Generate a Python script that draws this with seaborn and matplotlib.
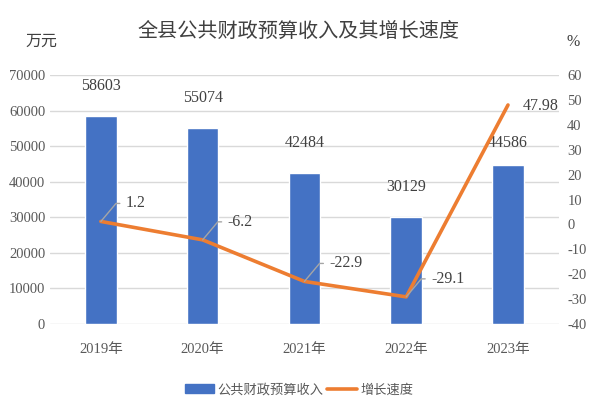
import seaborn as sns
import matplotlib.pyplot as plt
import pandas as pd
import numpy as np

# data
years = ["2019年", "2020年", "2021年", "2022年", "2023年"]
revenue = [58603, 55074, 42484, 30129, 44586]
growth = [1.2, -6.2, -22.9, -29.1, 47.98]
growth_labels = ["1.2", "-6.2", "-22.9", "-29.1", "47.98"]

bar_color = "#4472C4"
line_color = "#ED7D31"
grey = "#595959"
dark = "#404040"
fonts = ["Liberation Serif", "Noto Sans CJK SC", "DejaVu Sans"]


def plot_revenue_chart() -> None:
    sns.set_style("white")
    plt.rcParams["font.family"] = fonts
    plt.rcParams["axes.unicode_minus"] = False

    df = pd.DataFrame({"year": years, "revenue": revenue, "growth": growth,
                       "pos": np.arange(len(years))})

    fig = plt.figure(figsize=(5.98, 4.17), dpi=100)
    ax = fig.add_axes([0.0836, 0.223, 0.851, 0.597])

    sns.barplot(data=df, x="year", y="revenue", color=bar_color, width=0.31,
                saturation=1, ax=ax, zorder=2)
    ax.set_ylim(0, 70000)
    ax.set_yticks(range(0, 70001, 10000))
    ax.set_xlim(-0.5, len(years) - 0.5)
    ax.grid(axis="y", color="#D9D9D9", linewidth=1, zorder=0)
    ax.set_axisbelow(True)
    for s in ax.spines.values():
        s.set_visible(False)
    ax.set_xlabel("")
    ax.set_ylabel("")
    ax.tick_params(axis="both", length=0, colors=grey, labelsize=10.5)
    ax.tick_params(axis="x", pad=14)
    for lab in ax.get_xticklabels() + ax.get_yticklabels():
        lab.set_family(fonts)

    # value labels above bars
    for i, v in enumerate(revenue):
        off = 22 if i < 4 else 14
        ax.annotate(str(v), (i, v), xytext=(0, off), textcoords="offset pixels",
                    ha="center", va="bottom", fontsize=11.5, color=dark,
                    family=fonts)

    ax2 = ax.twinx()
    sns.lineplot(data=df, x="pos", y="growth", color=line_color, linewidth=2.6,
                 sort=False, ax=ax2)
    ax2.set_ylim(-40, 60)
    ax2.set_yticks(range(-40, 61, 10))
    ax2.set_xlim(-0.5, len(years) - 0.5)
    for s in ax2.spines.values():
        s.set_visible(False)
    ax2.set_ylabel("")
    ax2.tick_params(axis="y", length=0, colors=grey, labelsize=10.5, pad=6)
    for lab in ax2.get_yticklabels():
        lab.set_family(fonts)

    # growth labels with leader lines
    for i, (g, t) in enumerate(zip(growth, growth_labels)):
        if i < 4:
            ax2.annotate(t, (i, g), xytext=(25, 18), textcoords="offset pixels",
                         ha="left", va="center", fontsize=11.5, color=dark,
                         family=fonts,
                         arrowprops=dict(arrowstyle="-", color="#A6A6A6",
                                         lw=1, relpos=(0, 0.5),
                                         shrinkA=2, shrinkB=0,
                                         connectionstyle="angle,angleA=0,angleB=50,rad=0"))
        else:
            ax2.annotate(t, (i, g), xytext=(15, -1), textcoords="offset pixels",
                         ha="left", va="center", fontsize=11.5, color=dark,
                         family=fonts)

    fig.text(0.5, 1 - 32 / 417, "全县公共财政预算收入及其增长速度", ha="center",
             va="center", fontsize=14.5, color=dark, family=fonts)
    fig.text(25 / 598, 1 - 42 / 417, "万元", ha="left", va="center",
             fontsize=11.5, color=dark, family=fonts)
    fig.text(573 / 598, 1 - 42 / 417, "%", ha="center", va="center",
             fontsize=11.5, color=dark, family=fonts)

    handles = [plt.Rectangle((0, 0), 1, 1, color=bar_color),
               plt.Line2D([0], [0], color=line_color, linewidth=2.6)]
    fig.legend(handles, ["公共财政预算收入", "增长速度"], loc="center",
               bbox_to_anchor=(0.5, 1 - 390 / 417), ncol=2, frameon=False,
               handlelength=2.2, handletextpad=0.3, columnspacing=0.3,
               prop=dict(family=fonts, size=9.5), labelcolor=grey)

    fig.savefig("out.png", dpi=100)
    plt.close(fig)


if __name__ == "__main__":
    plot_revenue_chart()
